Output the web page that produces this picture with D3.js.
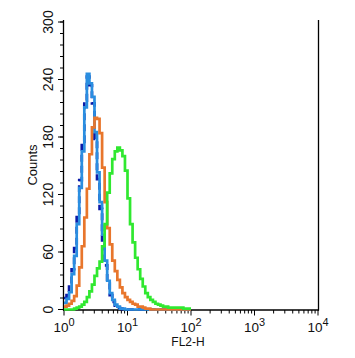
<!DOCTYPE html>
<html><head><meta charset="utf-8">
<script src="https://cdn.jsdelivr.net/npm/d3@7/dist/d3.min.js"></script>
<style>body{margin:0;background:#fff}svg{display:block}</style>
</head><body>
<svg id="c" width="355" height="358"></svg>
<script>
// histogram channels: log10(FL2-H) bin width 0.04 decade, starting at 10^0
const binWidthLog = 0.04;
const darkBlue = [12,15,24,42,64,98,135,175,218,243,234,215,178,136,105,72,46,27,15,8,4,2,1,0,0,0,0,0,0,0,0,0,0,0,0,0,0,0,0,0,0,0,0,0,0,0,0,0,0,0];
const lightBlue = [7,11,18,37,56,89,127,165,211,246,236,222,185,143,112,78,51,30,17,10,5,3,1,1,0,0,0,0,0,0,0,0,0,0,0,0,0,0,0,0,0,0,0,0,0,0,0,0,0,0];
const orange = [3,4,6,9,14,25,44,66,96,126,162,190,200,199,184,148,112,85,68,51,40,31,23,17,13,10,8,6,5,3,3,2,1,1,0,0,0,0,0,0,0,0,0,0,0,0,0,0,0,0];
const green = [0,0,0,0,1,2,3,5,8,13,19,26,35,43,50,66,89,122,142,157,165,169,166,160,145,116,89,70,54,42,32,24,17,13,10,8,6,5,4,3,3,2,2,2,2,2,2,1,1,1];
const yTicks = [0,60,120,180,240,300];
const xTicks = [1,10,100,1000,10000];
const xTickExp = ["0","1","2","3","4"];
const xLabel = "FL2-H", yLabel = "Counts";

const svg = d3.select("#c");
const x = d3.scaleLog().domain([1,10000]).range([64,318]);
const y = d3.scaleLinear().domain([0,300]).range([309.5,22]);
const font = "Liberation Sans, Arial, Helvetica, sans-serif";

// x minor ticks
const xMinor = [];
for (let d=0; d<4; d++) for (let k=2;k<=9;k++) xMinor.push(k*Math.pow(10,d));
const gx = svg.append("g");
gx.selectAll("line.mn").data(xMinor).enter().append("line")
  .attr("x1",d=>x(d)).attr("x2",d=>x(d)).attr("y1",310).attr("y2",313.5)
  .attr("stroke","#000").attr("stroke-width",1);
gx.selectAll("line.mj").data(xTicks).enter().append("line")
  .attr("x1",d=>x(d)).attr("x2",d=>x(d)).attr("y1",310).attr("y2",315.5)
  .attr("stroke","#000").attr("stroke-width",1);
const xl = gx.selectAll("text").data(xTicks).enter().append("text")
  .attr("x",d=>x(d)).attr("y",332).attr("text-anchor","middle")
  .attr("font-family",font).attr("font-size",13.5).attr("fill","#111");
xl.append("tspan").text("10");
xl.append("tspan").attr("dy",-6).attr("font-size",11).text((d,i)=>xTickExp[i]);
svg.append("text").attr("x",188).attr("y",346).attr("text-anchor","middle")
  .attr("font-family",font).attr("font-size",12).attr("fill","#111").text(xLabel);

// y axis
const yMinor = d3.range(0,301,12);
const gy = svg.append("g");
gy.selectAll("line.mn").data(yMinor).enter().append("line")
  .attr("x1",60).attr("x2",63.5).attr("y1",d=>y(d)).attr("y2",d=>y(d))
  .attr("stroke","#000").attr("stroke-width",1);
gy.selectAll("line.mj").data(yTicks).enter().append("line")
  .attr("x1",58).attr("x2",63.5).attr("y1",d=>y(d)).attr("y2",d=>y(d))
  .attr("stroke","#000").attr("stroke-width",1);
gy.selectAll("text").data(yTicks).enter().append("text")
  .attr("transform",d=>`translate(53,${y(d)}) rotate(-90)`)
  .attr("text-anchor","middle").attr("font-family",font).attr("font-size",14).attr("fill","#111")
  .text(d=>d);
svg.append("text").attr("transform","translate(37,165) rotate(-90)")
  .attr("text-anchor","middle").attr("font-family",font).attr("font-size",13).attr("fill","#111").text(yLabel);

// axis lines
svg.append("line").attr("x1",63.5).attr("x2",63.5).attr("y1",20).attr("y2",310.5).attr("stroke","#000").attr("stroke-width",1.3);
svg.append("line").attr("x1",63).attr("x2",319).attr("y1",310).attr("y2",310).attr("stroke","#000").attr("stroke-width",1.3);
svg.append("line").attr("x1",318.5).attr("x2",318.5).attr("y1",20).attr("y2",310.5).attr("stroke","#000").attr("stroke-width",1.3);

// histograms
function pts(arr){
  const p = arr.map((c,i)=>[Math.pow(10,i*binWidthLog), c]);
  p.push([Math.pow(10,arr.length*binWidthLog), arr[arr.length-1]]);
  return p;
}
const line = d3.line().x(d=>x(d[0])).y(d=>y(d[1])).curve(d3.curveStepAfter);
const series = [
  {d:darkBlue, c:"#0a1aa8", dash:"7,4"},
  {d:lightBlue, c:"#2a8ee0"},
  {d:orange, c:"#e8762c"},
  {d:green, c:"#30e830"}
];
svg.selectAll("path.s").data(series).enter().append("path")
  .attr("d",s=>line(pts(s.d))).attr("fill","none")
  .attr("stroke",s=>s.c).attr("stroke-width",2.7)
  .attr("stroke-dasharray",s=>s.dash||null);
</script>
</body></html>
